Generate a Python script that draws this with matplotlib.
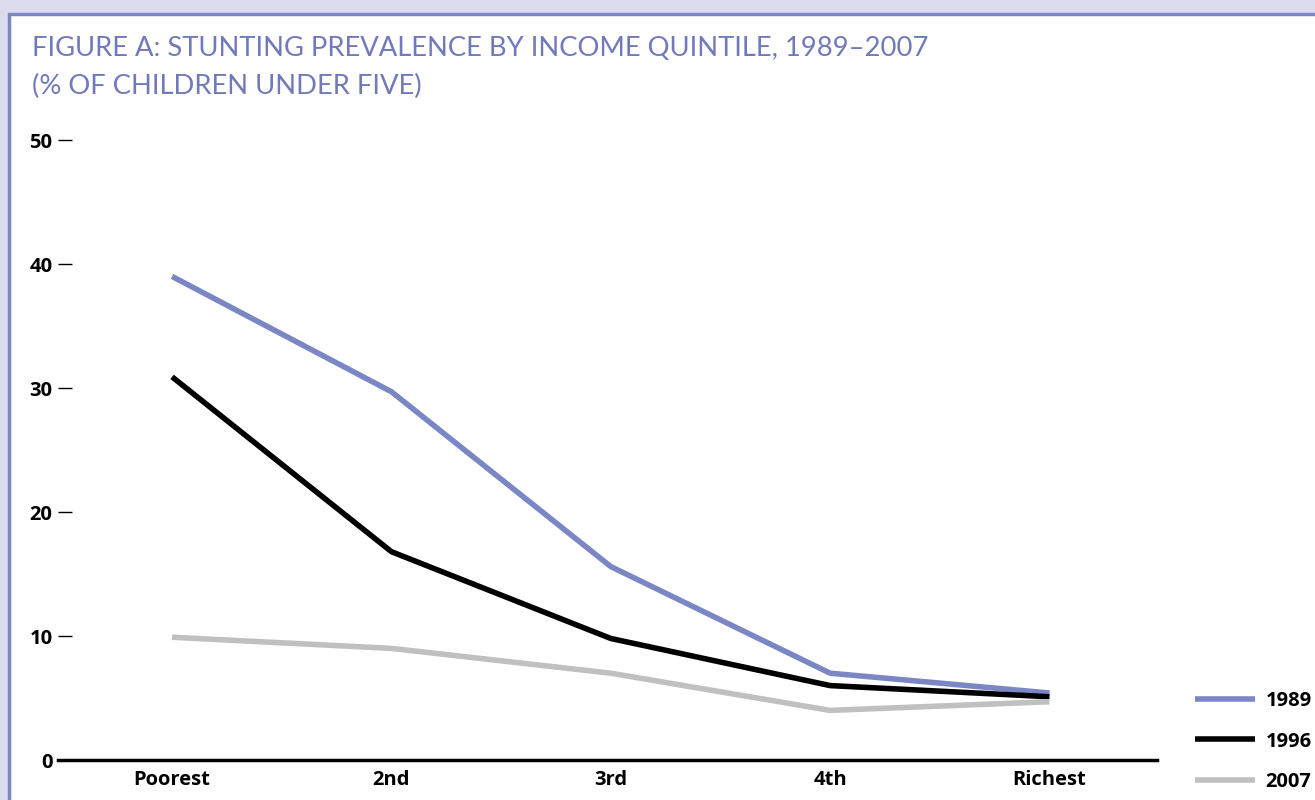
import matplotlib.pyplot as plt
from matplotlib.patches import Rectangle

quintiles = ['Poorest', '2nd', '3rd', '4th', 'Richest']
years = ['1989', '1996', '2007']
stunting_1989 = [39.0, 29.7, 15.6, 7.0, 5.4]
stunting_1996 = [30.9, 16.8, 9.8, 6.0, 5.1]
stunting_2007 = [9.9, 9.0, 7.0, 4.0, 4.7]
y_ticks = [0, 10, 20, 30, 40, 50]

colors = ['#7b86c4', '#000000', '#c0c0c0']
series = [stunting_1989, stunting_1996, stunting_2007]

plt.rcParams['font.family'] = ['Lato', 'DejaVu Sans']
bold_font = {'family': ['Open Sans', 'DejaVu Sans'], 'size': 14.5, 'weight': 'bold'}

fig = plt.figure(figsize=(13.15, 8), dpi=100)
fig.patch.set_facecolor('#dcdcee')
# white panel with lavender border
fig.patches.append(Rectangle((9 / 1315, -0.01), 1.02, 1 - 14 / 800 + 0.01,
                             transform=fig.transFigure, facecolor='white',
                             edgecolor='#7b86c4', linewidth=2.5, zorder=-10))

fig.text(32 / 1315, 1 - 48 / 800, 'FIGURE A: STUNTING PREVALENCE BY INCOME QUINTILE, 1989\u20132007',
         color='#7179bb', fontsize=19.7, va='center', ha='left')
fig.text(32 / 1315, 1 - 86 / 800, '(% OF CHILDREN UNDER FIVE)',
         color='#7179bb', fontsize=19.7, va='center', ha='left')

ax = fig.add_axes([58 / 1315, 40 / 800, (1157 - 58) / 1315, (760 - 140) / 800])
ax.set_facecolor('none')
ax.set_zorder(1)
x = list(range(len(quintiles)))
for vals, c, lab in zip(series, colors, years):
    ax.plot(x, vals, color=c, linewidth=4, label=lab, solid_capstyle='butt')

ax.set_xlim(-0.52, 4.49)
ax.set_ylim(0, 50)
ax.set_yticks(y_ticks)
ax.set_yticklabels([str(t) for t in y_ticks], fontdict=bold_font)
ax.set_xticks(x)
ax.set_xticklabels(quintiles, fontdict=bold_font)
ax.tick_params(axis='x', length=0, pad=7)
ax.tick_params(axis='y', direction='in', length=10, width=1, pad=4)
for s in ['top', 'right', 'left']:
    ax.spines[s].set_visible(False)
ax.spines['bottom'].set_linewidth(2.5)

handles, labels = ax.get_legend_handles_labels()
leg = fig.legend(handles, labels, loc='upper left',
                 bbox_to_anchor=(1195 / 1315, 1 - 691 / 800), frameon=False,
                 borderpad=0, borderaxespad=0, handlelength=3.0,
                 labelspacing=1.02, prop=bold_font, handletextpad=0.5)
for h in leg.get_lines():
    h.set_linewidth(4)

fig.savefig('out.png', dpi=100, facecolor=fig.get_facecolor())
